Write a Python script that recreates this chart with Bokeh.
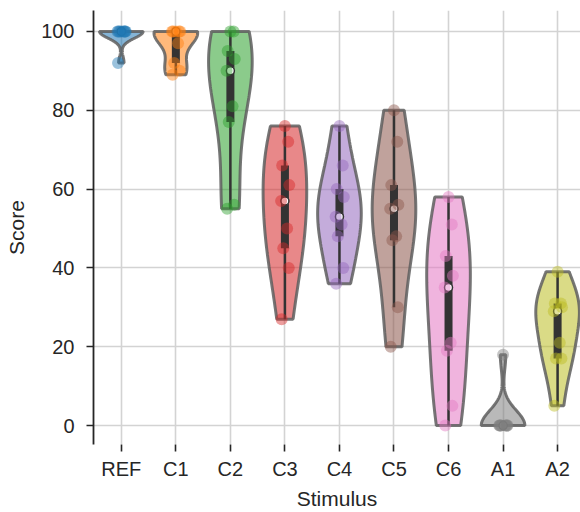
import numpy as np
from bokeh.plotting import figure
from bokeh.models import FixedTicker, Range1d, ColumnDataSource
from bokeh.embed import file_html
from bokeh.resources import INLINE

# ---- data ----
stimuli = ["REF", "C1", "C2", "C3", "C4", "C5", "C6", "A1", "A2"]
ref = [100, 100, 100, 100, 100, 100, 100, 100, 92]
c1 = [100, 100, 100, 100, 100, 97, 92, 90, 89]
c2 = [100, 100, 95, 93, 90, 81, 77, 56, 55]
c3 = [76, 72, 66, 61, 57, 50, 45, 40, 27]
c4 = [76, 66, 60, 58, 53, 51, 48, 40, 36]
c5 = [80, 72, 61, 56, 55, 48, 47, 30, 20]
c6 = [58, 51, 43, 38, 35, 21, 19, 5, 0]
a1 = [18, 0, 0, 0, 0, 0, 0, 0, 0]
a2 = [39, 31, 31, 30, 29, 21, 17, 17, 5]
scores = [ref, c1, c2, c3, c4, c5, c6, a1, a2]
y_ticks = [0, 20, 40, 60, 80, 100]

# ---- styles ----
colors = ["#1f77b4", "#ff7f0e", "#2ca02c", "#d62728", "#9467bd",
          "#8c564b", "#e377c2", "#7f7f7f", "#bcbd22"]
jitter = [0.0, 0.06, -0.05, 0.08, -0.07, 0.04, -0.03, 0.07, -0.06]
FONT = "Liberation Sans"
TXT = "#262626"
VW = 0.4  # half width of violins


def kde(data, grid):
    d = np.asarray(data, float)
    n = len(d)
    bw = d.std(ddof=1) * n ** (-0.2)
    z = (grid[:, None] - d[None, :]) / bw
    return np.exp(-0.5 * z ** 2).sum(1) / (n * bw * np.sqrt(2 * np.pi))


p = figure(width=580, height=512,
           x_range=Range1d(-0.51, 8.42), y_range=Range1d(-4.8, 105.3),
           output_backend="svg", toolbar_location=None,
           min_border_left=93, min_border_right=0,
           min_border_top=10, min_border_bottom=67)
p.outline_line_color = None
p.background_fill_color = "white"
p.border_fill_color = "white"

# grids
p.xgrid.ticker = FixedTicker(ticks=list(range(len(stimuli))))
p.ygrid.ticker = FixedTicker(ticks=y_ticks)
for g in (p.xgrid, p.ygrid):
    g.grid_line_color = "#d3d3d3"
    g.grid_line_width = 1.6

# axes
p.xaxis.ticker = FixedTicker(ticks=list(range(len(stimuli))))
p.xaxis.major_label_overrides = {i: s for i, s in enumerate(stimuli)}
p.yaxis.ticker = FixedTicker(ticks=y_ticks)
p.xaxis.axis_label = "Stimulus"
p.yaxis.axis_label = "Score"
for ax in (p.xaxis, p.yaxis):
    ax.axis_label_text_font = FONT
    ax.axis_label_text_font_size = "21px"
    ax.axis_label_text_font_style = "normal"
    ax.axis_label_text_color = TXT
    ax.major_label_text_font = FONT
    ax.major_label_text_font_size = "20px"
    ax.major_label_text_color = TXT
    ax.major_tick_in = 0
    ax.major_tick_out = 7
    ax.major_tick_line_color = TXT
    ax.major_tick_line_width = 1.6
    ax.minor_tick_line_color = None
p.yaxis.axis_line_color = TXT
p.yaxis.axis_line_width = 1.8
p.yaxis.major_label_standoff = 12
p.yaxis.axis_label_standoff = 10
p.xaxis.axis_line_color = None
p.xaxis.major_label_standoff = 6
p.xaxis.axis_label_standoff = 4

for i, (vals, col) in enumerate(zip(scores, colors)):
    d = np.asarray(vals, float)
    grid = np.linspace(d.min(), d.max(), 100)
    dens = kde(d, grid)
    dens = dens / dens.max() * VW
    xs = np.concatenate([i - dens, (i + dens)[::-1]])
    ys = np.concatenate([grid, grid[::-1]])
    p.patch(xs, ys, fill_color=col, fill_alpha=0.55,
            line_color="#5e5e5e", line_alpha=0.85, line_width=3)

    q1, med, q3 = np.percentile(d, [25, 50, 75])
    lim = 1.5 * (q3 - q1)
    lo = d[d >= q1 - lim].min()
    hi = d[d <= q3 + lim].max()
    if hi > lo:
        p.segment(x0=[i], y0=[lo], x1=[i], y1=[hi], line_color="#333333", line_width=2.5)
    if q3 > q1:
        p.segment(x0=[i], y0=[q1], x1=[i], y1=[q3], line_color="#333333", line_width=8)
    p.scatter([i], [med], size=8, fill_color="white", line_color="#333333", line_width=1.5)

    src = ColumnDataSource(dict(x=[i + jitter[k % len(jitter)] for k in range(len(vals))],
                                y=list(vals)))
    p.scatter("x", "y", source=src, size=12, fill_color=col, fill_alpha=0.45,
              line_color=None)

open("out.html", "w").write(file_html(p, INLINE))
